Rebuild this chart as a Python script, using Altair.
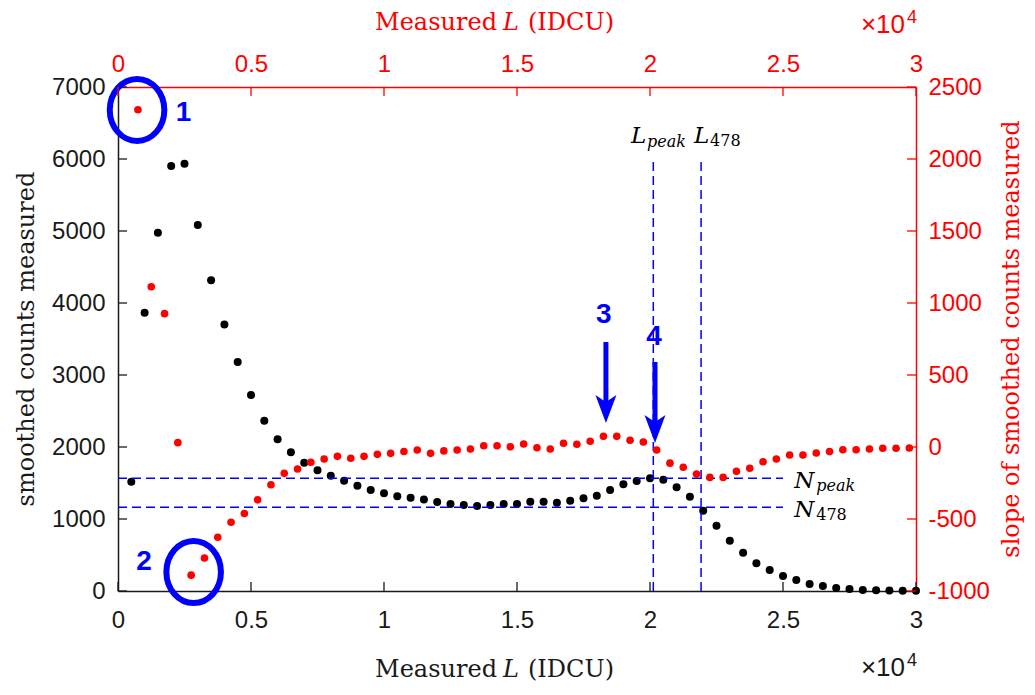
import altair as alt
import pandas as pd

# ---------------- data (L in IDCU) ----------------
L_counts = [500, 1000, 1500, 2000, 2500, 3000, 3500, 4000, 4500, 5000,
            5500, 6000, 6500, 7000, 7500, 8000, 8500, 9000, 9500, 10000,
            10500, 11000, 11500, 12000, 12500, 13000, 13500, 14000, 14500, 15000,
            15500, 16000, 16500, 17000, 17500, 18000, 18500, 19000, 19500, 20000,
            20500, 21000, 21500, 22000, 22500, 23000, 23500, 24000, 24500, 25000,
            25500, 26000, 26500, 27000, 27500, 28000, 28500, 29000, 29500, 30000]
N_counts = [1518, 3865, 4977, 5903, 5935, 5083, 4315, 3700, 3181, 2722,
            2365, 2107, 1926, 1782, 1676, 1602, 1532, 1463, 1403, 1357,
            1315, 1295, 1270, 1237, 1208, 1194, 1181, 1194, 1208, 1208,
            1241, 1241, 1227, 1255, 1287, 1324, 1403, 1481, 1528, 1565,
            1545, 1442, 1310, 1115, 907, 699, 532, 384, 292, 208,
            153, 97, 69, 42, 28, 14, 10, 6, 4, 2]

L_slope = [750, 1250, 1750, 2250, 2750, 3250, 3750, 4250, 4750, 5250,
           5750, 6250, 6750, 7250, 7750, 8250, 8750, 9250, 9750, 10250,
           10750, 11250, 11750, 12250, 12750, 13250, 13750, 14250, 14750, 15250,
           15750, 16250, 16750, 17250, 17750, 18250, 18750, 19250, 19750, 20250,
           20750, 21250, 21750, 22250, 22750, 23250, 23750, 24250, 24750, 25250,
           25750, 26250, 26750, 27250, 27750, 28250, 28750, 29250, 29750]
S_slope = [2342, 1113, 926, 30, -890, -771, -627, -523, -462, -367,
           -262, -183, -153, -106, -83, -65, -78, -65, -51, -44,
           -31, -21, -44, -27, -21, -14, 9, 9, 2, 21,
           -5, -14, 26, 19, 40, 74, 74, 47, 35, -21,
           -112, -141, -188, -211, -211, -169, -148, -102, -83, -56,
           -56, -42, -32, -19, -19, -14, -9, -9, -7]

x_ticks = [0, 5000, 10000, 15000, 20000, 25000, 30000]
n_ticks = [0, 1000, 2000, 3000, 4000, 5000, 6000, 7000]
s_ticks = [-1000, -500, 0, 500, 1000, 1500, 2000, 2500]

# reference lines
N_peak, N_478 = 1565, 1162
L_peak, L_478 = 20124, 21920
# annotations (data coordinates: L, N)
circle_L = [716, 2844]
circle_N = [6681, 264]
num_text = ["1", "2", "3", "4"]
num_L = [2467, 975, 18267, 20151]
num_N = [6632, 407, 3833, 3528]
arrow_L = [18343, 20188]
arrow_top = [3458, 3181]
arrow_head = [2528, 2250]

# ---------------- style ----------------
W, H = 798, 504
SANS = "Liberation Sans"
SERIF = "DejaVu Serif"
DARK = "#1a1a1a"
RED = "#FF0000"
BLUE = "#0000FF"
TFS = 24   # serif title font size

xscale = alt.Scale(domain=[0, 30000], nice=False, zero=False)
nscale = alt.Scale(domain=[0, 7000], nice=False, zero=False)
sscale = alt.Scale(domain=[-1000, 2500], nice=False, zero=False)
lab_expr = "'' + (datum.value / 10000)"
plain_expr = "'' + datum.value"

ax_bottom = alt.Axis(orient="bottom", values=x_ticks, labelExpr=lab_expr, ticks=False, grid=False,
                     title=None, labelFont=SANS, labelFontSize=24, labelColor=DARK, labelPadding=17,
                     labelFlush=False, labelOverlap=False, domainColor=DARK, domainWidth=1.5)
ax_top = alt.Axis(orient="top", values=x_ticks, labelExpr=lab_expr, ticks=False, grid=False,
                  title=None, labelFont=SANS, labelFontSize=24, labelColor=RED, labelPadding=11,
                  labelFlush=False, labelOverlap=False, domainColor=RED, domainWidth=1.5)
ax_left = alt.Axis(orient="left", values=n_ticks, labelExpr=plain_expr, ticks=False, grid=False,
                   title=None, labelFont=SANS, labelFontSize=24, labelColor=DARK, labelPadding=13,
                   labelOverlap=False, domainColor=DARK, domainWidth=1.5)
ax_right = alt.Axis(orient="right", values=s_ticks, labelExpr=plain_expr, ticks=False, grid=False,
                    title=None, labelFont=SANS, labelFontSize=24, labelColor=RED, labelPadding=12,
                    labelOverlap=False, domainColor=RED, domainWidth=1.5)


def XB(f):
    return alt.X(f"{f}:Q", scale=xscale, axis=ax_bottom)


def XT(f):
    return alt.X(f"{f}:Q", scale=xscale, axis=ax_top)


def YN(f):
    return alt.Y(f"{f}:Q", scale=nscale, axis=ax_left)


def YS(f):
    return alt.Y(f"{f}:Q", scale=sscale, axis=ax_right)


def ptext(txt, x, y, size, color, font, style="normal", align="left", angle=0,
          weight="normal", baseline="alphabetic"):
    return alt.Chart(pd.DataFrame({"t": [txt]})).mark_text(
        align=align, baseline=baseline, font=font, fontSize=size, fontStyle=style,
        fontWeight=weight, color=color, angle=angle
    ).encode(x=alt.value(x), y=alt.value(y), text="t:N")


df_counts = pd.DataFrame({"L": L_counts, "N": N_counts})
df_slope = pd.DataFrame({"L": L_slope, "S": S_slope})

# ---------------- left / bottom group ----------------
black = alt.Chart(df_counts).mark_circle(size=64, color="#000000", opacity=1).encode(x=XB("L"), y=YN("N"))

lticks = alt.Chart(pd.DataFrame({"N": n_ticks})).mark_rule(color=DARK, strokeWidth=1.3).encode(
    y=YN("N"), x=alt.value(0), x2=alt.value(9))
bticks = alt.Chart(pd.DataFrame({"L": x_ticks})).mark_rule(color=DARK, strokeWidth=1.3).encode(
    x=XB("L"), y=alt.value(H), y2=alt.value(H - 9))

df_dash = pd.DataFrame({"L": [0, 0, L_peak, L_478], "L2": [25000, 25000, L_peak, L_478],
                        "N": [N_peak, N_478, 0, 0], "N2": [N_peak, N_478, 6000, 6000]})
dashes = alt.Chart(df_dash).mark_rule(color=BLUE, strokeWidth=1.5, strokeDash=[9, 5]).encode(
    x=XB("L"), x2="L2:Q", y=YN("N"), y2="N2:Q")

df_arrow = pd.DataFrame({"L": arrow_L, "N": arrow_top, "N2": arrow_head})
shafts = alt.Chart(df_arrow).mark_rule(color=BLUE, strokeWidth=5).encode(x=XB("L"), y=YN("N"), y2="N2:Q")
DART = "M 0 1 L -0.75 -1 L 0 -0.5 L 0.75 -1 Z"
heads = alt.Chart(pd.DataFrame({"L": arrow_L, "N": arrow_head})).mark_point(
    shape=DART, filled=True, size=784, color=BLUE, opacity=1, strokeWidth=0).encode(x=XB("L"), y=YN("N"))

ELL = "M -0.88 0 A 0.88 1 0 1 0 0.88 0 A 0.88 1 0 1 0 -0.88 0 Z"
circles = alt.Chart(pd.DataFrame({"L": circle_L, "N": circle_N})).mark_point(
    shape=ELL, filled=False, size=3844, strokeWidth=6, color=BLUE, opacity=1).encode(x=XB("L"), y=YN("N"))

nums = alt.Chart(pd.DataFrame({"L": num_L, "N": num_N, "t": num_text})).mark_text(
    font=SANS, fontWeight="bold", fontSize=28, color=BLUE, align="center", baseline="middle"
).encode(x=XB("L"), y=YN("N"), text="t:N")

# symbol labels: main letters and subscripts
main_df = pd.DataFrame({"L": [19284, 21657, 25424, 25424], "N": [6222, 6222, 1431, 1028],
                        "t": ["L", "L", "N", "N"]})
mains = alt.Chart(main_df).mark_text(font=SERIF, fontStyle="italic", fontSize=23, color="#000000",
                                     align="left", baseline="alphabetic").encode(
    x=XB("L"), y=YN("N"), text="t:N")
sub_it = alt.Chart(pd.DataFrame({"L": [19886, 26250], "N": [6167, 1389], "t": ["peak", "peak"]})).mark_text(
    font=SERIF, fontStyle="italic", fontSize=16, color="#000000", align="left", baseline="alphabetic").encode(
    x=XB("L"), y=YN("N"), text="t:N")
sub_up = alt.Chart(pd.DataFrame({"L": [22260, 26250], "N": [6181, 986], "t": ["478", "478"]})).mark_text(
    font=SERIF, fontSize=16, color="#000000", align="left", baseline="alphabetic").encode(
    x=XB("L"), y=YN("N"), text="t:N")

left_titles = [
    ptext("Measured", 379, 590, TFS, DARK, SERIF, align="right"),
    ptext("L", 385, 590, TFS, DARK, SERIF, style="italic"),
    ptext("(IDCU)", 410, 590, TFS, DARK, SERIF),
    ptext("×10", 787, 589, 26, DARK, SANS, align="right"),
    ptext("4", 789, 579, 18, DARK, SANS),
    ptext("smoothed counts measured", -91, 252, TFS, DARK, SERIF, align="center", angle=270,
          baseline="middle"),
]

left_group = alt.layer(black, lticks, bticks, dashes, shafts, heads, circles, nums, mains, sub_it, sub_up,
                       *left_titles)

# ---------------- right / top group (red) ----------------
red = alt.Chart(df_slope).mark_circle(size=58, color=RED, opacity=1).encode(x=XT("L"), y=YS("S"))
rticks = alt.Chart(pd.DataFrame({"S": s_ticks})).mark_rule(color=RED, strokeWidth=1.3).encode(
    y=YS("S"), x=alt.value(W), x2=alt.value(W - 9))
tticks = alt.Chart(pd.DataFrame({"L": x_ticks})).mark_rule(color=RED, strokeWidth=1.3).encode(
    x=XT("L"), y=alt.value(0), y2=alt.value(9))
right_titles = [
    ptext("Measured", 379, -57, TFS, RED, SERIF, align="right"),
    ptext("L", 385, -57, TFS, RED, SERIF, style="italic"),
    ptext("(IDCU)", 410, -57, TFS, RED, SERIF),
    ptext("×10", 787, -54, 26, RED, SANS, align="right"),
    ptext("4", 789, -64, 18, RED, SANS),
    ptext("slope of smoothed counts measured", 894, 252, TFS, RED, SERIF, align="center", angle=270,
          baseline="middle"),
]
red_group = alt.layer(red, rticks, tticks, *right_titles)

chart = alt.layer(left_group, red_group).resolve_scale(x="independent", y="independent").properties(
    width=W, height=H,
    autosize=alt.AutoSizeParams(type="none"),
    padding={"left": 110, "top": 79, "right": 111, "bottom": 96},
).configure_view(strokeWidth=0)

chart.save("out.html", embed_options={"renderer": "svg", "actions": False})
